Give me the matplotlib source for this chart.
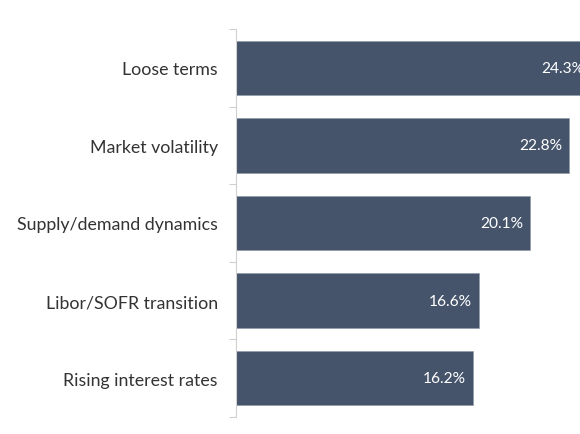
import matplotlib.pyplot as plt
import numpy as np

categories = ["Loose terms", "Market volatility", "Supply/demand dynamics",
              "Libor/SOFR transition", "Rising interest rates"]
values = [24.3, 22.8, 20.1, 16.6, 16.2]

plt.rcParams['font.family'] = ['Lato', 'DejaVu Sans']

fig = plt.figure(figsize=(5.8, 4.35), dpi=100, facecolor="white")
# axes run past the right edge, so the top bar gets cut like in the original
ax = fig.add_axes([236 / 580, 17 / 435, 380 / 580, 388 / 435])

y = np.arange(len(categories))
ax.barh(y, values, height=0.7, color="#46546b", edgecolor="#8a96a8", linewidth=0.4)

for yi, v in zip(y, values):
    ax.annotate(f"{v:.1f}%", (v, yi), xytext=(-5, 0), textcoords="offset points",
                ha="right", va="center", color="white", fontsize=11.2)

ax.set_xlim(0, 26)
ax.set_ylim(len(categories) - 0.5, -0.5)

ax.set_yticks(y)
ax.set_yticklabels(categories, fontsize=12.8, color="#333333")
ax.tick_params(axis="y", length=0, pad=13)
ax.set_yticks(np.arange(len(categories) + 1) - 0.5, minor=True)
ax.tick_params(axis="y", which="minor", length=5, color="#d0d0d0", width=0.8)
ax.set_xticks([])

for s in ["top", "right", "bottom"]:
    ax.spines[s].set_visible(False)
ax.spines["left"].set_color("#d0d0d0")
ax.spines["left"].set_linewidth(0.8)

fig.savefig("out.png", dpi=100)
